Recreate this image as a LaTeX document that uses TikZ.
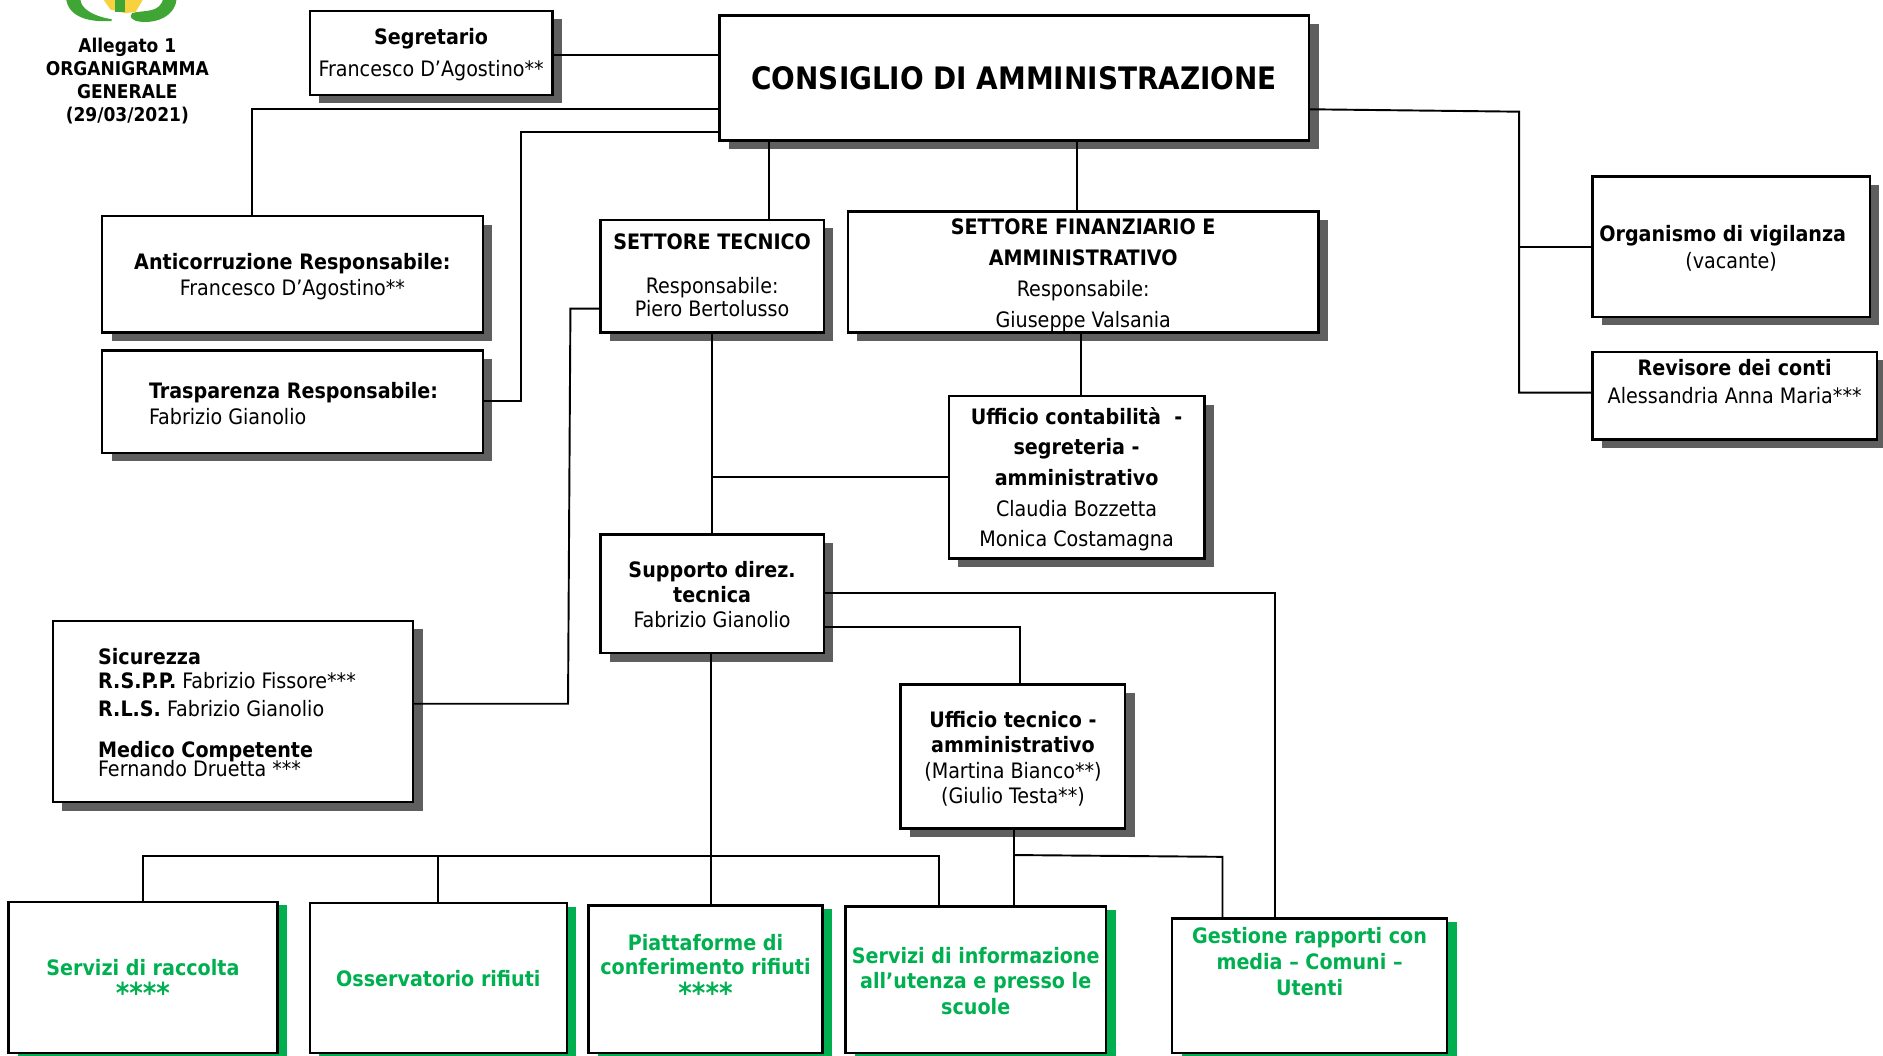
\documentclass[tikz,border=0pt]{standalone}
\usepackage{fontspec}
\setmainfont{DejaVu Sans Condensed}
\usetikzlibrary{shadows}
\definecolor{grn}{HTML}{00B050}
\definecolor{shd}{HTML}{5F5F5F}
\definecolor{logog}{HTML}{3FA535}
\definecolor{logoy}{HTML}{F7D23E}
\newcommand\tx[5]{\kern#1pt\makebox[0pt]{\raisebox{\dimexpr#2pt-6.5pt\relax}[0pt][0pt]{\fontsize{17.7}{#3}\selectfont\begin{tabular}[c]{@{}#4@{}}#5\end{tabular}}}\kern-#1pt}
\newcommand\stars{\fontsize{24}{19}\selectfont\textbf{****}}
\tikzset{
 x=1pt,y=-1pt,
 rect/.style n args={4}{minimum width={#3-#1}, minimum height={#4-#2}, at={({(#1+#3)/2},{(#2+#4)/2})}},
 box/.style={draw=black,fill=white,line width=2pt,inner sep=0pt,outer sep=0pt,
   general shadow={fill=shd,shadow xshift=8pt,shadow yshift=-7pt}},
 gbox/.style={draw=black,fill=white,line width=2pt,inner sep=0pt,outer sep=0pt,text=grn,
   general shadow={fill=grn,shadow xshift=8pt,shadow yshift=-3pt}},
 conn/.style={line width=1.6pt,line join=miter},
}
\begin{document}
\begin{tikzpicture}
\useasboundingbox (0,0) rectangle (1568,879.3);
% logo
\begin{scope}
\clip (0,0) rectangle (1568,19);
\fill[logoy] (85,-2) -- (120,-2) -- (113,10) -- (104,11) -- (92,8) -- cycle;
\fill[logog] (96,-2) rectangle (104,10);
\fill[logog] (55,-2) .. controls (56,12) and (70,19) .. (93,17.5) -- (93,16) .. controls (80,14) and (66,8) .. (67,-2) -- cycle;
\fill[logog] (147,-2) .. controls (147,12) and (132,20) .. (116,18) .. controls (110,17) and (107,14) .. (110,11) .. controls (118,8) and (134,12) .. (136,-2) -- cycle;
\end{scope}
\node[align=center,font=\bfseries\fontsize{15.8}{19}\selectfont] (title) at (106,67.5) {Allegato 1\\ORGANIGRAMMA\\GENERALE\\(29/03/2021)};
% boxes
\node[box,rect={258}{9}{460}{79}] (seg) {\tx{0}{1}{26}{c}{\textbf{Segretario}\\Francesco D’Agostino**}};
\node[box,rect={599}{13}{1090}{117}] (cda) {\raisebox{-3pt}{\fontsize{25.8}{32}\selectfont\textbf{CONSIGLIO DI AMMINISTRAZIONE}}};
\node[box,rect={85}{180}{402}{277}] (anti) {\tx{0}{0}{22}{c}{\textbf{Anticorruzione Responsabile:}\\Francesco D’Agostino**}};
\node[box,rect={85}{292}{402}{377}] (tras) {\tx{1}{-1.5}{22}{l}{\textbf{Trasparenza Responsabile:}\\Fabrizio Gianolio}};
\node[box,rect={500}{183}{686}{277}] (stec) {\tx{0}{0.5}{17}{c}{\textbf{SETTORE TECNICO}\\[18pt]Responsabile:\\Piero Bertolusso}};
\node[box,rect={706}{176}{1098}{277}] (sfin) {\tx{0}{0}{26}{c}{\textbf{SETTORE FINANZIARIO E}\\\textbf{AMMINISTRATIVO}\\Responsabile:\\Giuseppe Valsania}};
\node[box,rect={790}{330}{1003}{465}] (ucon) {\tx{0}{0.5}{25.5}{c}{\textbf{Ufficio contabilità\ \ -}\\\textbf{segreteria -}\\\textbf{amministrativo}\\Claudia Bozzetta\\Monica Costamagna}};
\node[box,rect={500}{445}{686}{544}] (supp) {\tx{0}{-1}{21}{c}{\textbf{Supporto direz.}\\\textbf{tecnica}\\Fabrizio Gianolio}};
\node[box,rect={44}{517}{344}{668}] (sicu) {\tx{-5}{-1.5}{20}{l}{\textbf{Sicurezza}\\\textbf{R.S.P.P.} Fabrizio Fissore***\\[3pt]\textbf{R.L.S.} Fabrizio Gianolio\\[14pt]\textbf{Medico Competente}\\[-4pt]Fernando Druetta ***}};
\node[box,rect={750}{570}{937}{690}] (utec) {\tx{0}{-1}{21}{c}{\textbf{Ufficio tecnico -}\\\textbf{amministrativo}\\(Martina Bianco**)\\(Giulio Testa**)}};
\node[box,rect={1326}{147}{1557}{264}] (orga) {\tx{0}{0}{23}{c}{\textbf{Organismo di vigilanza}\hspace*{14pt}\\(vacante)}};
\node[box,rect={1326}{293}{1563}{366}] (revi) {\tx{0}{12}{23}{c}{\textbf{Revisore dei conti}\\Alessandria Anna Maria***}};
\node[gbox,rect={7}{751}{231}{877}] (racc) {\tx{0}{-4}{19}{c}{\textbf{Servizi di raccolta}\\\stars}};
\node[gbox,rect={258}{752}{472}{877}] (osse) {\tx{0}{-1}{20}{c}{\textbf{Osservatorio rifiuti}}};
\node[gbox,rect={490}{754}{685}{877}] (piat) {\tx{0}{8}{20}{c}{\textbf{Piattaforme di}\\\textbf{conferimento rifiuti}\\\stars}};
\node[gbox,rect={704}{755}{921}{877}] (info) {\tx{0}{-1}{21.5}{c}{\textbf{Servizi di informazione}\\\textbf{all’utenza e presso le}\\\textbf{scuole}}};
\node[gbox,rect={976}{765}{1205}{877}] (gest) {\tx{0}{20}{21.5}{c}{\textbf{Gestione rapporti con}\\\textbf{media – Comuni –}\\\textbf{Utenti}}};
% connectors
\draw[conn] (seg.east |- 0,46) -- (cda.west |- 0,46);
\draw[conn] (cda.west |- 0,91) -- (210,91) -- (anti.north -| 210,0);
\draw[conn] (cda.west |- 0,110) -- (434,110) -- (434,334) -- (tras.east |- 0,334);
\draw[conn] (cda.south -| 640,0) -- (stec.north -| 640,0);
\draw[conn] (cda.south -| 897,0) -- (sfin.north -| 897,0);
\draw[conn] (cda.east |- 0,91) -- (1265,93) -- (1265,327) -- (revi.west |- 0,327);
\draw[conn] (1265,206) -- (orga.west |- 0,206);
\draw[conn] (sfin.south -| 900,0) -- (ucon.north -| 900,0);
\draw[conn] (stec.south) -- (supp.north);
\draw[conn] (593,397) -- (ucon.west |- 0,397);
\draw[conn] (stec.west |- 0,257) -- (475,257) -- (473,586) -- (sicu.east |- 0,586);
\draw[conn] (supp.east |- 0,494) -- (1062,494) -- (gest.north -| 1062,0);
\draw[conn] (supp.east |- 0,522) -- (849,522) -- (utec.north -| 849,0);
\draw[conn] (supp.south -| 592,0) -- (piat.north -| 592,0);
\draw[conn] (racc.north -| 119,0) -- (119,713) -- (782,713) -- (info.north -| 782,0);
\draw[conn] (365,712) -- (osse.north -| 365,0);
\draw[conn] (utec.south -| 844,0) -- (info.north -| 844,0);
\draw[conn] (844,712) -- (1018,713.5) -- (gest.north -| 1018,0);
\end{tikzpicture}
\end{document}
